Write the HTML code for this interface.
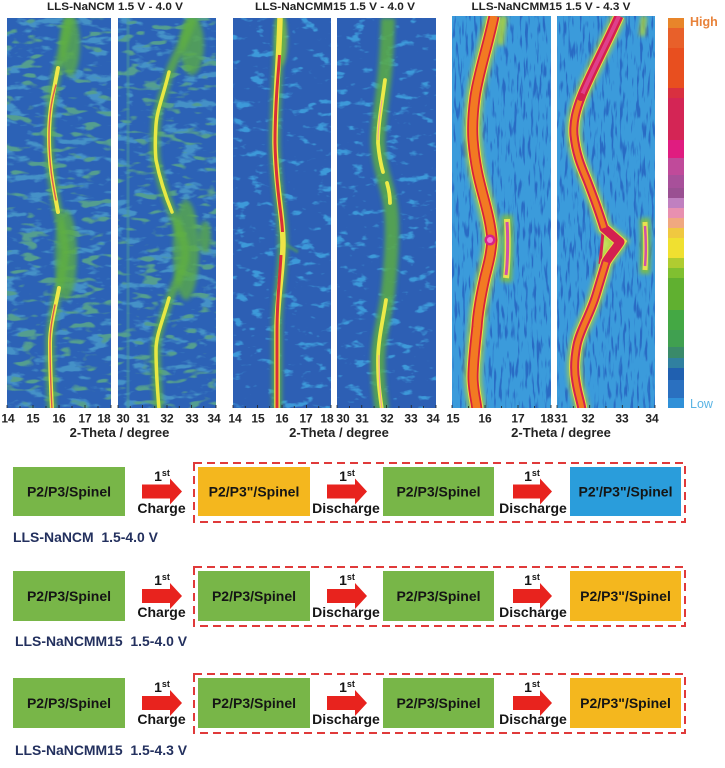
<!DOCTYPE html>
<html><head><meta charset="utf-8"><style>
html,body{margin:0;padding:0;background:#fff;}
svg{display:block;font-family:"Liberation Sans",Arial,sans-serif;}
</style></head><body>
<svg width="725" height="768" viewBox="0 0 725 768" xmlns="http://www.w3.org/2000/svg">
<defs>
<filter id="nA" x="0" y="0" width="1" height="1" color-interpolation-filters="sRGB">
  <feTurbulence type="fractalNoise" baseFrequency="0.045 0.11" numOctaves="3" seed="5"/>
  <feColorMatrix type="matrix" values="0 0 0 0 0.27  0 0 0 0 0.57  0 0 0 0 0.78  7 0 0 0 -3.9"/>
</filter>
<filter id="nA2" x="0" y="0" width="1" height="1" color-interpolation-filters="sRGB">
  <feTurbulence type="fractalNoise" baseFrequency="0.05 0.13" numOctaves="2" seed="11"/>
  <feColorMatrix type="matrix" values="0 0 0 0 0.33  0 0 0 0 0.62  0 0 0 0 0.56  8 0 0 0 -4.7"/>
</filter>
<filter id="nB" x="0" y="0" width="1" height="1" color-interpolation-filters="sRGB">
  <feTurbulence type="fractalNoise" baseFrequency="0.06 0.12" numOctaves="3" seed="8"/>
  <feColorMatrix type="matrix" values="0 0 0 0 0.24  0 0 0 0 0.60  0 0 0 0 0.85  7 0 0 0 -4.2"/>
</filter>
<filter id="nC" x="0" y="0" width="1" height="1" color-interpolation-filters="sRGB">
  <feTurbulence type="fractalNoise" baseFrequency="0.35 0.05" numOctaves="2" seed="3"/>
  <feColorMatrix type="matrix" values="0 0 0 0 0.16  0 0 0 0 0.42  0 0 0 0 0.77  6 0 0 0 -3.2"/>
</filter>
<filter id="bl" filterUnits="userSpaceOnUse" x="0" y="0" width="725" height="450"><feGaussianBlur stdDeviation="2.2"/></filter>
<filter id="bl2" filterUnits="userSpaceOnUse" x="0" y="0" width="725" height="450"><feGaussianBlur stdDeviation="1"/></filter>
<clipPath id="c1"><rect x="7" y="18" width="104" height="390"/></clipPath>
<clipPath id="c2"><rect x="118" y="18" width="98" height="390"/></clipPath>
<clipPath id="c3"><rect x="233" y="18" width="98" height="390"/></clipPath>
<clipPath id="c4"><rect x="337" y="18" width="99" height="390"/></clipPath>
<clipPath id="c5"><rect x="452" y="16" width="99" height="392"/></clipPath>
<clipPath id="c6"><rect x="557" y="16" width="98" height="392"/></clipPath>
</defs>

<!-- Titles -->
<g font-weight="bold" font-size="11" fill="#222" text-anchor="middle">
<text x="115" y="10" textLength="136" lengthAdjust="spacingAndGlyphs">LLS-NaNCM 1.5 V - 4.0 V</text>
<text x="335" y="10" textLength="160" lengthAdjust="spacingAndGlyphs">LLS-NaNCMM15 1.5 V - 4.0 V</text>
<text x="551" y="10" textLength="159" lengthAdjust="spacingAndGlyphs">LLS-NaNCMM15 1.5 V - 4.3 V</text>
</g>

<!-- Panel 1 -->
<g clip-path="url(#c1)">
<rect x="7" y="18" width="104" height="390" fill="#2c62b6"/>
<rect x="7" y="18" width="104" height="390" filter="url(#nA)"/>
<rect x="7" y="18" width="104" height="390" filter="url(#nA2)"/>
<g filter="url(#bl)" fill="#5aaa4a" opacity="0.8">
<ellipse cx="70" cy="45" rx="10" ry="32"/>
<ellipse cx="66" cy="255" rx="11" ry="45"/>
</g>
<path d="M69,18 C67,35 61,55 57,73 C53,95 49,110 49,137 C49,165 53,185 57,207 C61,228 65,240 65,250 C65,265 59,285 56,300 C53,318 50,330 50,343 C50,370 51,390 52,410" fill="none" stroke="#60b040" stroke-width="9" opacity="0.8" filter="url(#bl)"/>
<g fill="none" stroke-linecap="round">
<path d="M58,68 C53,95 49,110 49,137 C49,165 53,185 58,212" stroke="#eee84a" stroke-width="4"/>
<path d="M59,288 C56,305 50,325 50,343 C50,370 51,390 52,410" stroke="#eee84a" stroke-width="4"/>
<path d="M56,85 C53,95 49,110 49,137 C49,165 53,185 56,200" stroke="#d85a50" stroke-width="1.4"/>
<path d="M55,305 C52,320 50,330 50,343 C50,370 51,390 52,410" stroke="#d85a50" stroke-width="1.4"/>
</g>
</g>

<!-- Panel 2 -->
<g clip-path="url(#c2)">
<rect x="118" y="18" width="98" height="390" fill="#2c62b6"/>
<rect x="118" y="18" width="98" height="390" filter="url(#nA)"/>
<rect x="118" y="18" width="98" height="390" filter="url(#nA2)"/>
<rect x="126.5" y="18" width="3" height="390" fill="#4a9a9a" opacity="0.5"/>
<g filter="url(#bl)" fill="#5aaa4a" opacity="0.8">
<ellipse cx="192" cy="45" rx="12" ry="30"/>
<ellipse cx="186" cy="250" rx="13" ry="50"/>
<ellipse cx="205" cy="237" rx="6" ry="16"/>
</g>
<path d="M193,18 C186,40 173,60 168,77 C163,97 157,110 156,125 C155,140 155,150 156,160 C160,180 165,195 172,212 C178,228 185,240 185,253 C185,270 172,290 168,303 C163,320 156,335 156,350 C156,375 158,395 159,410" fill="none" stroke="#60b040" stroke-width="9" opacity="0.8" filter="url(#bl)"/>
<g fill="none" stroke="#e8e844" stroke-width="3.5" stroke-linecap="round">
<path d="M169,72 C163,97 157,110 156,125 C155,140 155,150 156,160 C160,180 165,195 172,212"/>
<path d="M169,298 C163,320 156,335 156,350 C156,375 158,395 159,410"/>
</g>
</g>

<!-- Panel 3 -->
<g clip-path="url(#c3)">
<rect x="233" y="18" width="98" height="390" fill="#2d5fb4"/>
<rect x="233" y="18" width="98" height="390" filter="url(#nB)"/>
<ellipse cx="281" cy="40" rx="6" ry="26" fill="#8cc840" opacity="0.8" filter="url(#bl)"/>
<path d="M283,243 L298,252" stroke="#5aaa4a" stroke-width="3" opacity="0.6" filter="url(#bl2)"/>
<path d="M280,18 C279,60 275,100 275,143 C276,190 283,215 283,243 C283,270 277,300 277,330 C277,370 277,395 277,410" fill="none" stroke="#60b040" stroke-width="10" opacity="0.8" filter="url(#bl)"/>
<path d="M280,18 C279,60 275,100 275,143 C276,190 283,215 283,243 C283,270 277,300 277,330 C277,370 277,395 277,410" fill="none" stroke="#eee446" stroke-width="5.5"/>
<path d="M279.5,55 C278,80 275,100 275,143 C276,190 282,215 282.5,232 M281,255 C280,275 277,300 277,330 C277,370 277,395 277,410" fill="none" stroke="#d82f3a" stroke-width="3"/>
</g>

<!-- Panel 4 -->
<g clip-path="url(#c4)">
<rect x="337" y="18" width="99" height="390" fill="#2d5fb4"/>
<rect x="337" y="18" width="99" height="390" filter="url(#nB)"/>
<path d="M388,18 C387,50 385,75 383,90 C381,110 378,125 378,143 C379,165 385,180 388,193 C391,205 392,215 392,227 C392,255 390,275 388,293 C385,315 378,340 378,360 C378,385 380,395 382,410" fill="none" stroke="#5aac44" stroke-width="14" opacity="0.85" filter="url(#bl)"/>
<g fill="none" stroke="#ecea48" stroke-width="3.8" stroke-linecap="round">
<path d="M385,80 C381,110 378,125 378,143 C379,155 381,165 383,172"/>
<path d="M387,183 C389,190 390,196 390,203"/>
<path d="M386,300 C383,320 378,340 378,360 C378,385 380,395 382,410"/>
</g>
<g fill="none" stroke="#f0a0a0" stroke-width="1">
<path d="M382,100 C380,115 378,125 378,140"/>
<path d="M379,355 C379,375 380,395 382,410"/>
</g>
</g>

<!-- Panel 5 -->
<g clip-path="url(#c5)">
<rect x="452" y="16" width="99" height="392" fill="#3b9bdb"/>
<rect x="452" y="16" width="99" height="392" filter="url(#nC)"/>
<path d="M504,16 L500,45" stroke="#a8d040" stroke-width="7" opacity="0.9" filter="url(#bl)"/>
<path d="M507,215 C508,235 508,260 506,282" fill="none" stroke="#80c040" stroke-width="11" opacity="0.9" filter="url(#bl)"/>
<path d="M507,219 C508,235 508,260 506,278" fill="none" stroke="#e8e050" stroke-width="6"/>
<path d="M507,222 C508,235 508,260 506,275" fill="none" stroke="#d050a8" stroke-width="3"/>
<path d="M494,16 C488,45 478,75 475,97 C473,112 472,125 473,140 C475,165 479,180 483,195 C487,210 491,225 492,240 C491,255 488,265 485,277 C481,295 478,310 477,327 C475,345 473,365 473,377 C473,390 476,400 477,410" fill="none" stroke="#a8d040" stroke-width="18" opacity="0.8" filter="url(#bl)"/>
<path d="M494,16 C488,45 478,75 475,97 C473,112 472,125 473,140 C475,165 479,180 483,195 C487,210 491,225 492,240 C491,255 488,265 485,277 C481,295 478,310 477,327 C475,345 473,365 473,377 C473,390 476,400 477,410" fill="none" stroke="#e8e048" stroke-width="13"/>
<path d="M494,16 C488,45 478,75 475,97 C473,112 472,125 473,140 C475,165 479,180 483,195 C487,210 491,225 492,240 C491,255 488,265 485,277 C481,295 478,310 477,327 C475,345 473,365 473,377 C473,390 476,400 477,410" fill="none" stroke="#d8203c" stroke-width="11"/>
<path d="M494,16 C488,45 478,75 475,97 C473,112 472,125 473,140 C475,165 479,180 483,195 C487,210 491,225 492,240 C491,255 488,265 485,277 C481,295 478,310 477,327 C475,345 473,365 473,377 C473,390 476,400 477,410" fill="none" stroke="#f27a22" stroke-width="7.5"/>
<circle cx="490" cy="240" r="5.5" fill="#d8208a"/>
<circle cx="490" cy="240" r="3" fill="#f080c8"/>
</g>

<!-- Panel 6 -->
<g clip-path="url(#c6)">
<rect x="557" y="16" width="98" height="392" fill="#3b9bdb"/>
<rect x="557" y="16" width="98" height="392" filter="url(#nC)"/>
<path d="M644,16 L642,36" stroke="#a8d040" stroke-width="6" opacity="0.9" filter="url(#bl)"/>
<path d="M645,218 C646,240 646,255 645,274" fill="none" stroke="#80c040" stroke-width="10" opacity="0.9" filter="url(#bl)"/>
<path d="M645,222 C646,240 646,255 645,270" fill="none" stroke="#e8e050" stroke-width="5"/>
<path d="M645,226 C646,240 646,255 645,266" fill="none" stroke="#d050a8" stroke-width="2.5"/>
<polygon points="604,230 620,243 606,260 601,262" fill="#c8e060"/>
<path d="M619,16 C606,45 590,75 582,95 C576,110 573,122 574,135 C576,155 582,168 587,180 C594,198 600,215 604,228 L620,242 C615,250 610,255 606,262 C602,275 599,285 596,295 C590,315 580,330 577,345 C574,360 574,372 576,382 C578,395 581,402 582,410" fill="none" stroke="#a8d040" stroke-width="15" opacity="0.8" filter="url(#bl)"/>
<path d="M603,232 L600,264" stroke="#d42050" stroke-width="3"/>
<path d="M619,16 C606,45 590,75 582,95 C576,110 573,122 574,135 C576,155 582,168 587,180 C594,198 600,215 604,228 L620,242 C615,250 610,255 606,262 C602,275 599,285 596,295 C590,315 580,330 577,345 C574,360 574,372 576,382 C578,395 581,402 582,410" fill="none" stroke="#e8e048" stroke-width="11"/>
<path d="M619,16 C606,45 590,75 582,95 C576,110 573,122 574,135 C576,155 582,168 587,180 C594,198 600,215 604,228 L620,242 C615,250 610,255 606,262 C602,275 599,285 596,295 C590,315 580,330 577,345 C574,360 574,372 576,382 C578,395 581,402 582,410" fill="none" stroke="#d42050" stroke-width="9" stroke-linejoin="round"/>
<path d="M619,16 C606,45 590,75 582,95" fill="none" stroke="#e0408a" stroke-width="4"/>
<path d="M582,95 C576,110 573,122 574,135 C576,155 582,168 587,180 C594,198 600,215 604,228 M606,262 C602,275 599,285 596,295 C590,315 580,330 577,345 C574,360 574,372 576,382 C578,395 581,402 582,410" fill="none" stroke="#f27a22" stroke-width="5"/>
<circle cx="581" cy="97" r="4" fill="#d42050"/>
</g>

<!-- Ticks -->
<g stroke="#222" stroke-width="0.8">
<path d="M7,408v-3M20,408v-2M33,408v-3M46,408v-2M59,408v-3M72,408v-2M85,408v-3M98,408v-2M111,408v-3"/>
<path d="M118,408v-3M130.25,408v-2M142.5,408v-3M154.75,408v-2M167,408v-3M179.25,408v-2M191.5,408v-3M203.75,408v-2M216,408v-3"/>
<path d="M233,408v-3M245.25,408v-2M257.5,408v-3M269.75,408v-2M282,408v-3M294.25,408v-2M306.5,408v-3M318.75,408v-2M331,408v-3"/>
<path d="M337,408v-3M349.4,408v-2M361.75,408v-3M374.1,408v-2M386.5,408v-3M398.9,408v-2M411.25,408v-3M423.6,408v-2M436,408v-3"/>
<path d="M452,408v-3M468.5,408v-2M485,408v-3M501.5,408v-2M518,408v-3M534.5,408v-2M551,408v-3"/>
<path d="M557,408v-3M573.3,408v-2M589.7,408v-3M606,408v-2M622.3,408v-3M638.7,408v-2M655,408v-3"/>
</g>
<g font-weight="bold" font-size="12" fill="#222" text-anchor="middle">
<text x="8" y="422.5">14</text><text x="33" y="422.5">15</text><text x="59" y="422.5">16</text><text x="85" y="422.5">17</text><text x="104" y="422.5">18</text>
<text x="123" y="422.5">30</text><text x="143" y="422.5">31</text><text x="167" y="422.5">32</text><text x="192" y="422.5">33</text><text x="214" y="422.5">34</text>
<text x="235" y="422.5">14</text><text x="258" y="422.5">15</text><text x="282" y="422.5">16</text><text x="306" y="422.5">17</text><text x="327" y="422.5">18</text>
<text x="343" y="422.5">30</text><text x="362" y="422.5">31</text><text x="387" y="422.5">32</text><text x="411" y="422.5">33</text><text x="433" y="422.5">34</text>
<text x="453" y="422.5">15</text><text x="485" y="422.5">16</text><text x="518" y="422.5">17</text><text x="547" y="422.5">18</text>
<text x="561" y="422.5">31</text><text x="588" y="422.5">32</text><text x="622" y="422.5">33</text><text x="652" y="422.5">34</text>
</g>
<g font-weight="bold" font-size="13" fill="#222" text-anchor="middle">
<text x="119.5" y="437">2-Theta / degree</text>
<text x="339" y="437">2-Theta / degree</text>
<text x="561" y="437">2-Theta / degree</text>
</g>

<!-- Colorbar -->
<g>
<rect x="668" y="18" width="16" height="10" fill="#e8852a"/>
<rect x="668" y="28" width="16" height="20" fill="#e8602a"/>
<rect x="668" y="48" width="16" height="40" fill="#e84f1f"/>
<rect x="668" y="88" width="16" height="10" fill="#d93040"/>
<rect x="668" y="98" width="16" height="42" fill="#d42555"/>
<rect x="668" y="140" width="16" height="18" fill="#e01c80"/>
<rect x="668" y="158" width="16" height="17" fill="#c04a9a"/>
<rect x="668" y="175" width="16" height="13" fill="#a8509a"/>
<rect x="668" y="188" width="16" height="10" fill="#9a5092"/>
<rect x="668" y="198" width="16" height="10" fill="#c080c0"/>
<rect x="668" y="208" width="16" height="10" fill="#e890b0"/>
<rect x="668" y="218" width="16" height="10" fill="#f0a880"/>
<rect x="668" y="228" width="16" height="10" fill="#f0c840"/>
<rect x="668" y="238" width="16" height="20" fill="#f0e030"/>
<rect x="668" y="258" width="16" height="10" fill="#b0cc30"/>
<rect x="668" y="268" width="16" height="10" fill="#80c030"/>
<rect x="668" y="278" width="16" height="32" fill="#60b030"/>
<rect x="668" y="310" width="16" height="20" fill="#44a844"/>
<rect x="668" y="330" width="16" height="17" fill="#40a050"/>
<rect x="668" y="347" width="16" height="11" fill="#3a8a6a"/>
<rect x="668" y="358" width="16" height="10" fill="#3080a0"/>
<rect x="668" y="368" width="16" height="12" fill="#2060b0"/>
<rect x="668" y="380" width="16" height="18" fill="#2a70c0"/>
<rect x="668" y="398" width="16" height="10" fill="#3090d8"/>
</g>
<text x="690" y="26" font-weight="bold" font-size="12.5" fill="#e8823a">High</text>
<text x="690" y="408" font-size="12.5" fill="#5ab4e4">Low</text>

<!-- Bottom diagrams -->
<g font-weight="bold" font-size="14" fill="#151515" text-anchor="middle">
<!-- Row 1 -->
<rect x="194" y="463" width="491" height="59" fill="none" stroke="#e03a3a" stroke-width="2" stroke-dasharray="8,5"/>
<rect x="13" y="467" width="112" height="49" fill="#78b648"/>
<text x="69" y="496.5">P2/P3/Spinel</text>
<rect x="198" y="467" width="112" height="49" fill="#f4b71e"/>
<text x="254" y="496.5">P2/P3"/Spinel</text>
<rect x="383" y="467" width="111" height="49" fill="#78b648"/>
<text x="438.5" y="496.5">P2/P3/Spinel</text>
<rect x="570" y="467" width="111" height="49" fill="#2a9ddb"/>
<text x="625.5" y="496.5">P2'/P3"/Spinel</text>
<polygon points="142,484.5 170,484.5 170,478.5 182,491.5 170,504.5 170,498.5 142,498.5" fill="#e8231e"/>
<polygon points="327,484.5 355,484.5 355,478.5 367,491.5 355,504.5 355,498.5 327,498.5" fill="#e8231e"/>
<polygon points="513,484.5 540,484.5 540,478.5 552,491.5 540,504.5 540,498.5 513,498.5" fill="#e8231e"/>
<text x="162" y="481">1<tspan font-size="9" dy="-5">st</tspan></text>
<text x="347" y="481">1<tspan font-size="9" dy="-5">st</tspan></text>
<text x="532" y="481">1<tspan font-size="9" dy="-5">st</tspan></text>
<text x="161.5" y="513">Charge</text>
<text x="346" y="513">Discharge</text>
<text x="533" y="513">Discharge</text>

<!-- Row 2 -->
<rect x="194" y="567" width="491" height="59" fill="none" stroke="#e03a3a" stroke-width="2" stroke-dasharray="8,5"/>
<rect x="13" y="571" width="112" height="50" fill="#78b648"/>
<text x="69" y="601">P2/P3/Spinel</text>
<rect x="198" y="571" width="112" height="50" fill="#78b648"/>
<text x="254" y="601">P2/P3/Spinel</text>
<rect x="383" y="571" width="111" height="50" fill="#78b648"/>
<text x="438.5" y="601">P2/P3/Spinel</text>
<rect x="570" y="571" width="111" height="50" fill="#f4b71e"/>
<text x="625.5" y="601">P2/P3"/Spinel</text>
<polygon points="142,589 170,589 170,583 182,596 170,609 170,603 142,603" fill="#e8231e"/>
<polygon points="327,589 355,589 355,583 367,596 355,609 355,603 327,603" fill="#e8231e"/>
<polygon points="513,589 540,589 540,583 552,596 540,609 540,603 513,603" fill="#e8231e"/>
<text x="162" y="585">1<tspan font-size="9" dy="-5">st</tspan></text>
<text x="347" y="585">1<tspan font-size="9" dy="-5">st</tspan></text>
<text x="532" y="585">1<tspan font-size="9" dy="-5">st</tspan></text>
<text x="161.5" y="617">Charge</text>
<text x="346" y="617">Discharge</text>
<text x="533" y="617">Discharge</text>

<!-- Row 3 -->
<rect x="194" y="674" width="491" height="59" fill="none" stroke="#e03a3a" stroke-width="2" stroke-dasharray="8,5"/>
<rect x="13" y="678" width="112" height="50" fill="#78b648"/>
<text x="69" y="708">P2/P3/Spinel</text>
<rect x="198" y="678" width="112" height="50" fill="#78b648"/>
<text x="254" y="708">P2/P3/Spinel</text>
<rect x="383" y="678" width="111" height="50" fill="#78b648"/>
<text x="438.5" y="708">P2/P3/Spinel</text>
<rect x="570" y="678" width="111" height="50" fill="#f4b71e"/>
<text x="625.5" y="708">P2/P3"/Spinel</text>
<polygon points="142,696 170,696 170,690 182,703 170,716 170,710 142,710" fill="#e8231e"/>
<polygon points="327,696 355,696 355,690 367,703 355,716 355,710 327,710" fill="#e8231e"/>
<polygon points="513,696 540,696 540,690 552,703 540,716 540,710 513,710" fill="#e8231e"/>
<text x="162" y="692">1<tspan font-size="9" dy="-5">st</tspan></text>
<text x="347" y="692">1<tspan font-size="9" dy="-5">st</tspan></text>
<text x="532" y="692">1<tspan font-size="9" dy="-5">st</tspan></text>
<text x="161.5" y="724">Charge</text>
<text x="346" y="724">Discharge</text>
<text x="533" y="724">Discharge</text>
</g>
<g font-weight="bold" font-size="14" fill="#23305e">
<text x="13" y="542" textLength="145" lengthAdjust="spacingAndGlyphs" xml:space="preserve">LLS-NaNCM  1.5-4.0 V</text>
<text x="15" y="646" textLength="172" lengthAdjust="spacingAndGlyphs" xml:space="preserve">LLS-NaNCMM15  1.5-4.0 V</text>
<text x="15" y="755" textLength="172" lengthAdjust="spacingAndGlyphs" xml:space="preserve">LLS-NaNCMM15  1.5-4.3 V</text>
</g>
</svg>
</body></html>
